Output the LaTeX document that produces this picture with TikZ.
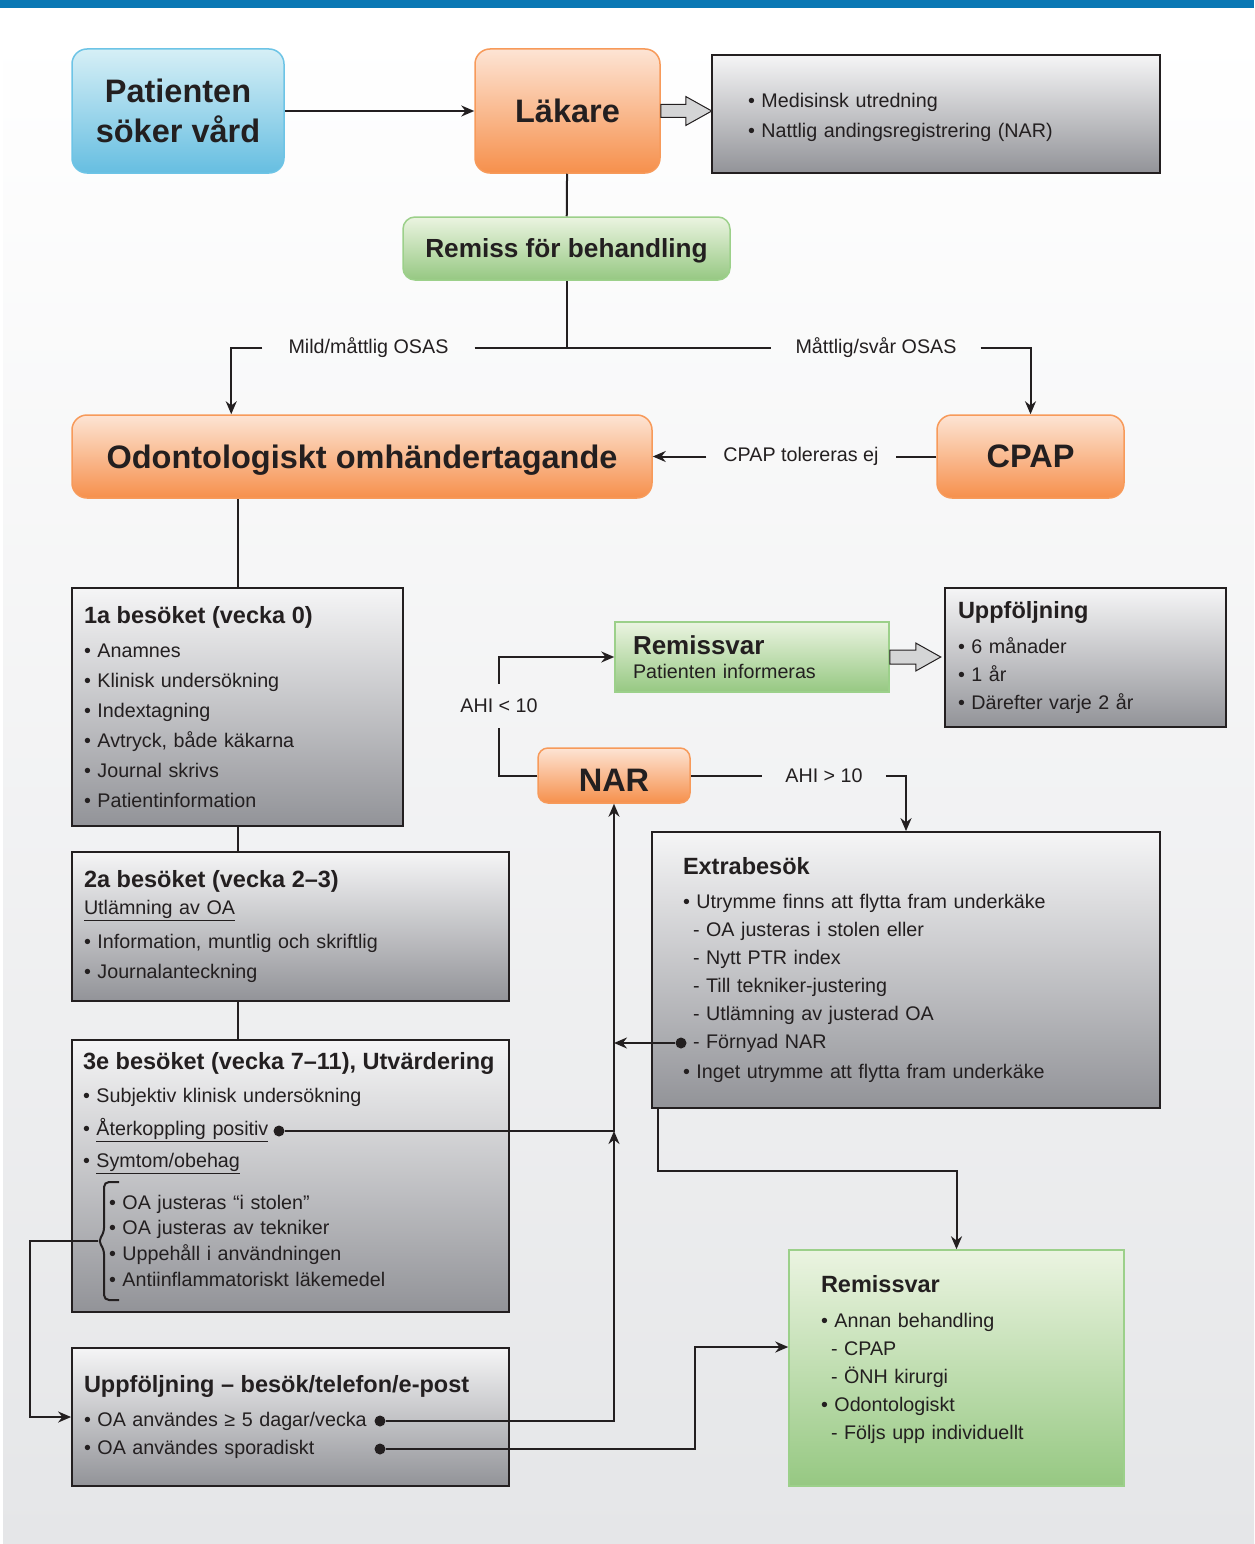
\documentclass[tikz,border=0pt]{standalone}
\usepackage{fontspec}
\setmainfont{Liberation Sans}
\usepackage{tikz}
\usetikzlibrary{arrows.meta,positioning,calc}
\definecolor{ink}{HTML}{231F20}
\definecolor{topbar}{HTML}{0A78B4}
\definecolor{bgbot}{HTML}{E5E6E8}
\definecolor{greytop}{HTML}{F5F5F6}
\definecolor{greybot}{HTML}{929398}
\definecolor{orgtop}{HTML}{FDE4D4}
\definecolor{orgbot}{HTML}{F6904C}
\definecolor{orgline}{HTML}{F79A5A}
\definecolor{bluetop}{HTML}{D6EFF6}
\definecolor{bluebot}{HTML}{66BEE1}
\definecolor{blueline}{HTML}{6DC4E6}
\definecolor{grntop}{HTML}{EBF4E1}
\definecolor{grnbot}{HTML}{96C882}
\definecolor{grnline}{HTML}{9CD08A}
\definecolor{arrfill}{HTML}{D4D5D6}
\newcommand{\hd}[1]{{\fontsize{23.5}{24}\selectfont\bfseries #1}}
\tikzset{
  hbox/.style={rectangle, rounded corners=15pt, line width=1.5pt, text=ink,
               font=\fontsize{32.5}{40}\selectfont\bfseries, align=center},
  pbox/.style={hbox, draw=blueline, top color=bluetop, bottom color=bluebot},
  obox/.style={hbox, draw=orgline, top color=orgtop, bottom color=orgbot},
  rbox/.style={hbox, draw=grnline, top color=grntop, bottom color=grnbot,
               rounded corners=12pt, font=\fontsize{26.2}{30}\selectfont\bfseries},
  gbox/.style={rectangle, draw=ink, line width=1.8pt, top color=greytop, bottom color=greybot,
               text=ink, align=left, font=\fontsize{19.7}{28}\selectfont},
  vbox/.style={rectangle, draw=grnline, line width=1.5pt, top color=grntop, bottom color=grnbot,
               text=ink, align=left, font=\fontsize{19.7}{28}\selectfont},
  lbl/.style={font=\fontsize{19.7}{24}\selectfont, text=ink, inner ysep=2pt},
  ln/.style={line width=2pt, draw=ink},
  arr/.style={ln, -{Stealth[length=13pt, width=11pt]}},
  dot/.style={circle, fill=ink, inner sep=0pt, minimum size=11pt},
  hollow/.style={draw=ink, line width=1pt, fill=arrfill},
}
\begin{document}
\begin{tikzpicture}[x=1pt, y=-1pt]
  \useasboundingbox (0,0) rectangle (1254,1544);
  % background
  \fill[white] (0,0) rectangle (1254,1544);
  \fill[topbar] (0,0) rectangle (1254,8);
  \shade[top color=white, bottom color=bgbot] (3,30) rectangle (1254,1544);

  % top row
  \node[pbox, minimum width=212pt, minimum height=124pt] (pat) at (178,111) {Patienten\\söker vård};
  \node[obox, minimum width=185pt, minimum height=124pt] (lak) at (567.5,111) {Läkare};
  \node[gbox, minimum width=448pt, minimum height=118pt, text width=376pt, inner xsep=36pt,
        font=\fontsize{19.7}{30}\selectfont] (med) at (936,114)
       {\mbox{}\\[-8pt]• Medisinsk utredning\\• Nattlig andingsregistrering (NAR)};
  \node[rbox, minimum width=327pt, minimum height=63pt, text depth=0pt] (rem) at (566.5,248.5) {Remiss för behandling};

  % branch labels
  \node[lbl, inner xsep=26pt] (mild) at (368.5,348) {Mild/måttlig OSAS};
  \node[lbl, inner xsep=24pt] (mt)   at (876,348)   {Måttlig/svår OSAS};

  \node[obox, minimum width=580pt, minimum height=83pt, text depth=0pt] (odont) at (362,456.5) {Odontologiskt omhändertagande};
  \node[obox, minimum width=187pt, minimum height=83pt] (cpap)  at (1030.5,456.5) {CPAP};
  \node[lbl, inner xsep=17pt] (tol) at (801,456.5) {CPAP tolereras ej};

  % visits
  \node[gbox, minimum width=331pt, minimum height=238pt, text width=307pt, inner xsep=12pt,
        font=\fontsize{19.7}{30}\selectfont] (v1) at (237.5,707)
       {\hd{1a besöket (vecka 0)}\\[4.5pt]
        • Anamnes\\
        • Klinisk undersökning\\
        • Indextagning\\
        • Avtryck, både käkarna\\
        • Journal skrivs\\
        • Patientinformation};
  \node[gbox, minimum width=437pt, minimum height=149pt, text width=413pt, inner xsep=12pt,
        font=\fontsize{19.7}{30}\selectfont] (v2) at (290.5,926.5)
       {\hd{2a besöket (vecka 2–3)}\\[-3.5pt]
        \underline{Utlämning av OA}\\[4pt]
        • Information, muntlig och skriftlig\\
        • Journalanteckning};
  \node[gbox, minimum width=437pt, minimum height=272pt, text width=415pt, inner xsep=11pt,
        font=\fontsize{19.7}{33}\selectfont] (v3) at (290.5,1176)
       {\hd{3e besöket (vecka 7–11), Utvärdering}\\[0.5pt]
        • Subjektiv klinisk undersökning\\
        • \underline{Återkoppling positiv}\\[-1pt]
        • \underline{Symtom/obehag}\\[9pt]
        \hspace*{26pt}• OA justeras “i stolen”\\[-8pt]
        \hspace*{26pt}• OA justeras av tekniker\\[-7pt]
        \hspace*{26pt}• Uppehåll i användningen\\[-7pt]
        \hspace*{26pt}• Antiinflammatoriskt läkemedel\\[-20pt]\mbox{}};
  \node[gbox, minimum width=437pt, minimum height=138pt, text width=413pt, inner xsep=12pt] (upp) at (290.5,1417)
       {\hd{Uppföljning – besök/telefon/e-post}\\[6.5pt]
        • OA användes ≥ 5 dagar/vecka\\
        • OA användes sporadiskt};

  % right column
  \node[vbox, minimum width=274pt, minimum height=70pt, text width=238pt, inner xsep=18pt,
        font=\fontsize{19.7}{24}\selectfont] (rv1) at (752,657)
       {{\fontsize{26}{26}\selectfont\bfseries Remissvar}\\Patienten informeras};
  \node[gbox, minimum width=281pt, minimum height=139pt, text width=255pt, inner xsep=13pt] (uf) at (1085.5,657.5)
       {\hd{Uppföljning}\\[6.5pt]
        • 6 månader\\
        • 1 år\\
        • Därefter varje 2 år};
  \node[obox, rounded corners=10pt, minimum width=152pt, minimum height=55pt, text height=31pt] (nar) at (614,775.5) {NAR};
  \node[lbl, inner ysep=15pt] (ahi1) at (499,706) {AHI < 10};
  \node[lbl, inner xsep=23pt] (ahi2) at (824,775.5) {AHI > 10};
  \node[gbox, minimum width=508pt, minimum height=276pt, text width=446pt, inner xsep=31pt] (extra) at (906,970)
       {\hd{Extrabesök}\\[6.5pt]
        • Utrymme finns att flytta fram underkäke\\
        \hspace*{10pt}- OA justeras i stolen eller\\
        \hspace*{10pt}- Nytt PTR index\\
        \hspace*{10pt}- Till tekniker-justering\\
        \hspace*{10pt}- Utlämning av justerad OA\\
        \hspace*{10pt}- Förnyad NAR\\[2pt]
        • Inget utrymme att flytta fram underkäke};
  \node[vbox, minimum width=335pt, minimum height=236pt, text width=271pt, inner xsep=32pt] (rem2) at (956.5,1368)
       {\hd{Remissvar}\\[6.5pt]
        • Annan behandling\\
        \hspace*{10pt}- CPAP\\
        \hspace*{10pt}- ÖNH kirurgi\\
        • Odontologiskt\\
        \hspace*{10pt}- Följs upp individuellt\\[-7pt]\mbox{}};

  % dots
  \node[dot] (dA) at (279,1131) {};
  \node[dot] (dF) at (681,1043) {};
  \node[dot] (d5) at (380,1421) {};
  \node[dot] (dS) at (380,1449) {};

  % brace
  \coordinate (brtip) at (98,1241);
  \draw[ln, rounded corners=5pt] (119,1182) -- (104,1182) -- (104,1233) -- (brtip)
        -- (104,1249) -- (104,1300) -- (119,1300);

  % hollow arrows
  \filldraw[hollow] ([yshift=6.5pt]lak.east) -- ++(25,0) -- ++(0,-8) -- ++(26,14.5)
        -- ++(-26,14.5) -- ++(0,-8) -- ++(-25,0) -- cycle;
  \filldraw[hollow] ([yshift=7pt]rv1.east) -- ++(26,0) -- ++(0,-7) -- ++(25,14)
        -- ++(-25,14) -- ++(0,-7) -- ++(-26,0) -- cycle;

  % connectors
  \draw[arr] (pat) -- (lak);
  \draw[ln] (lak) -- (rem);
  \draw[ln] (rem.south) -- (rem.south |- mild.east);
  \draw[ln] (mild.east) -- (mt.west);
  \draw[arr] (mild.west) -| ([xshift=160pt]odont.north west);
  \draw[arr] (mt.east) -| (cpap.north);
  \draw[ln] (cpap.west) -- (tol.east);
  \draw[arr] (tol.west) -- (odont.east);
  \draw[ln] (v1.north) -- (v1.north |- odont.south);
  \draw[ln] (v1.south) -- (v1.south |- v2.north);
  \draw[ln] (v1.south |- v2.south) -- (v1.south |- v3.north);
  \draw[arr] (brtip) -- ++(-68,0) |- (upp.west);
  \draw[ln] (nar.west) -| (ahi1.south);
  \draw[arr] (ahi1.north) |- (rv1.west);
  \draw[ln] (nar.east) -- (ahi2.west);
  \draw[arr] (ahi2.east) -| (extra.north);
  \draw[arr] (dA) -| (nar.south);
  \draw[arr] (d5) -| (dA -| nar.south);
  \draw[arr] (dF) -- (dF -| nar.south);
  \draw[arr] (dS) -- ++(315,0) |- ([yshift=21pt]rem2.west);
  \draw[arr] ([xshift=7pt]extra.south west) -- ++(0,62) -| (rem2.north);
\end{tikzpicture}
\end{document}
